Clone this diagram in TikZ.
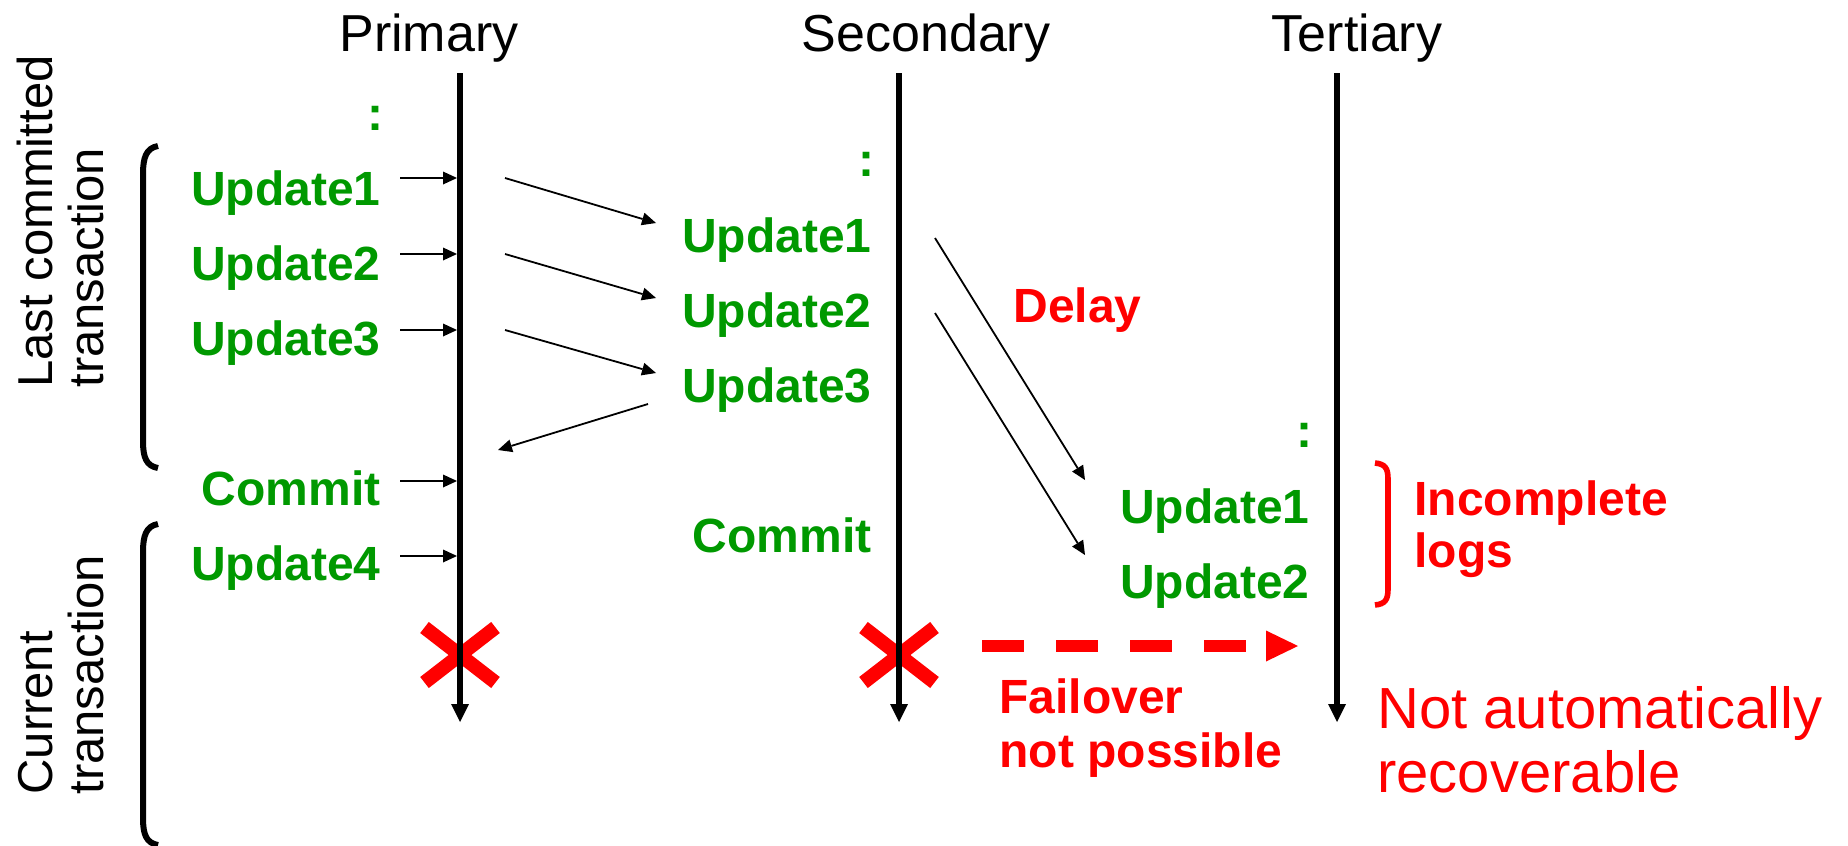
\documentclass[tikz,border=0pt]{standalone}
\usepackage{fontspec}
\setmainfont{Liberation Sans}
\usetikzlibrary{arrows.meta}
\definecolor{okgreen}{RGB}{0,153,0}
\definecolor{alertred}{RGB}{255,0,0}

\begin{document}
\begin{tikzpicture}[x=0.5pt,y=-0.5pt,
  lane/.style={line width=3pt,-{Triangle[length=9pt,width=9pt,line width=0pt]}},
  msg/.style={line width=0.9pt,-{Triangle[length=7pt,width=6.5pt,line width=0pt]}},
  head/.style={font=\fontsize{26}{30}\selectfont,inner sep=0pt,anchor=base},
  log/.style={font=\fontsize{24}{28}\selectfont\bfseries,text=okgreen,inner sep=0pt,anchor=base east},
  note/.style={font=\fontsize{24}{28}\selectfont\bfseries,text=alertred,inner sep=0pt,anchor=base west},
  bignote/.style={font=\fontsize{29}{34}\selectfont,text=alertred,inner sep=0pt,anchor=base west},
  side/.style={font=\fontsize{24.5}{28}\selectfont,inner sep=0pt,anchor=base west,rotate=90},
  brace/.style={line width=3pt},
  fail/.style={alertred,line width=7pt},
]
\useasboundingbox (0,0) rectangle (1848,846);

% column headings
\node[head] (hP) at (429,51) {Primary};
\node[head] (hS) at (926,51) {Secondary};
\node[head] (hT) at (1357,51) {Tertiary};

% lifeline end points
\coordinate (P0) at (460,73);  \coordinate (P1) at (460,722);
\coordinate (S0) at (899,73);  \coordinate (S1) at (899,722);
\coordinate (T0) at (1337,73); \coordinate (T1) at (1337,722);

% crash marks (under the lifelines)
\coordinate (xP) at (460,655);
\coordinate (xS) at (899,655);
\foreach \c in {xP,xS}{
  \draw[fail] (\c) ++(-35.5,-27.5) -- ++(71,55);
  \draw[fail] (\c) ++(35.5,-27.5) -- ++(-71,55);
}

% lifelines
\draw[lane] (P0) -- (P1);
\draw[lane] (S0) -- (S1);
\draw[lane] (T0) -- (T1);

% primary log
\node[log] (pc)  at (384,130) {:};
\node[log] (pu1) at (381,205) {Update1};
\node[log] (pu2) at (381,280) {Update2};
\node[log] (pu3) at (381,355) {Update3};
\node[log] (pcm) at (381,505) {Commit};
\node[log] (pu4) at (381,580) {Update4};

% secondary log
\node[log] (sc)  at (875,176) {:};
\node[log] (su1) at (872,252) {Update1};
\node[log] (su2) at (872,327) {Update2};
\node[log] (su3) at (872,402) {Update3};
\node[log] (scm) at (872,552) {Commit};

% tertiary log
\node[log] (tc)  at (1313,447) {:};
\node[log] (tu1) at (1310,523) {Update1};
\node[log] (tu2) at (1310,598) {Update2};

% writes into the primary log
\foreach \n/\y in {1/178,2/254,3/330,4/481,5/556}{
  \coordinate (w\n a) at (400,\y);
  \coordinate (w\n b) at (457,\y);
  \draw[msg, line width=1pt] (w\n a) -- (w\n b);
}

% shipping primary -> secondary
\coordinate (r1a) at (505,178); \coordinate (r1b) at (656,223);
\coordinate (r2a) at (505,254); \coordinate (r2b) at (656,298);
\coordinate (r3a) at (505,330); \coordinate (r3b) at (656,373);
\draw[msg] (r1a) -- (r1b);
\draw[msg] (r2a) -- (r2b);
\draw[msg] (r3a) -- (r3b);

% acknowledgement back to primary
\coordinate (acka) at (648,404); \coordinate (ackb) at (498,450);
\draw[msg] (acka) -- (ackb);

% delayed shipping secondary -> tertiary
\coordinate (d1a) at (935,238); \coordinate (d1b) at (1085,480);
\coordinate (d2a) at (935,313); \coordinate (d2b) at (1085,555);
\draw[msg] (d1a) -- (d1b);
\draw[msg] (d2a) -- (d2b);
\node[note] (dl) at (1013,322) {Delay};

% transaction brackets
\draw[brace] (158,146) .. controls (146,148) and (143,158) .. (143,174)
  -- (143,441) .. controls (143,457) and (146,466) .. (158,468);
\draw[brace] (158,524) .. controls (146,526) and (143,536) .. (143,552)
  -- (143,818) .. controls (143,834) and (146,843) .. (158,845);
\node[side] (lc1) at (52,388) {Last committed};
\node[side] (lc2) at (103,388) {transaction};
\node[side] (ct1) at (52,795) {Current};
\node[side] (ct2) at (103,795) {transaction};

% incomplete logs bracket
\draw[alertred,line width=2.8pt] (1375,463) .. controls (1385,464) and (1388,468) .. (1388,479)
  -- (1388,589) .. controls (1388,600) and (1385,604) .. (1375,605);
\node[note] (ic1) at (1414,515) {Incomplete};
\node[note] (ic2) at (1414,567) {logs};

% failover attempt
\coordinate (foa) at (982,646); \coordinate (fob) at (1298,646);
\draw[alertred,line width=6pt,dash pattern=on 21pt off 16pt,
  -{Triangle[length=16pt,width=15.5pt,line width=0pt]}] (foa) -- (fob);
\node[note] (fo1) at (999,713) {Failover};
\node[note] (fo2) at (999,767) {not possible};

\node[bignote] (nr1) at (1377,728) {Not automatically};
\node[bignote] (nr2) at (1377,792) {recoverable};
\end{tikzpicture}
\end{document}
